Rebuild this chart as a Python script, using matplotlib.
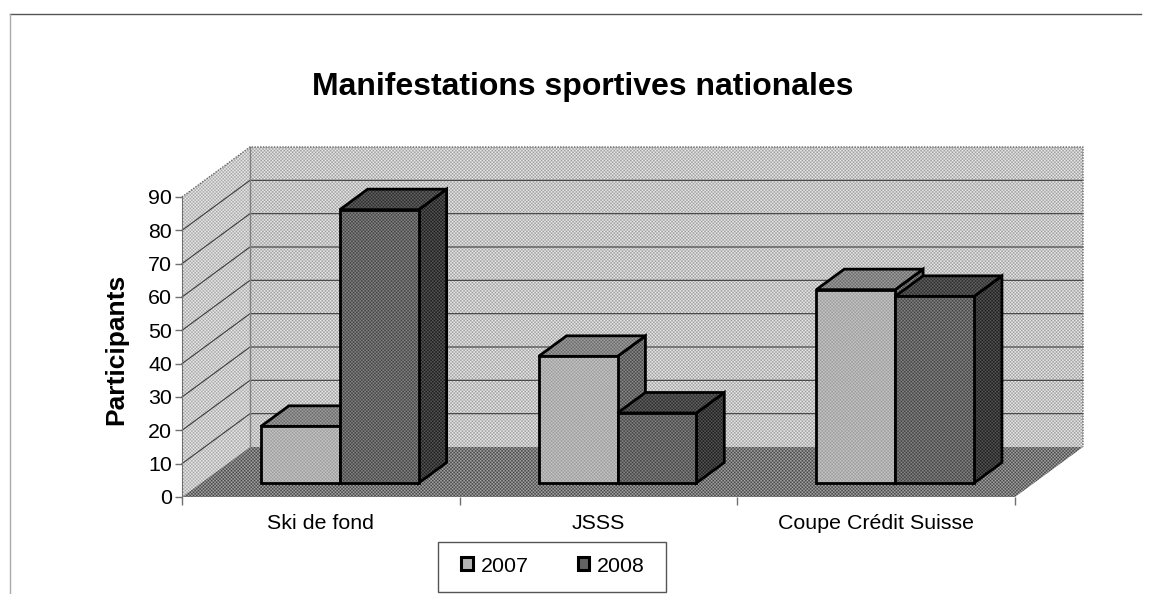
import numpy as np
import matplotlib
matplotlib.use('Agg')
import matplotlib.pyplot as plt
from matplotlib.patches import Polygon, Patch, Rectangle
from matplotlib.lines import Line2D

plt.rcParams['font.family'] = ['Liberation Sans', 'DejaVu Sans']

title = 'Manifestations sportives nationales'
ylabel = 'Participants'
categories = ['Ski de fond', 'JSSS', 'Coupe Crédit Suisse']
series_names = ['2007', '2008']
values_2007 = [17, 38, 58]
values_2008 = [82, 21, 56]
y_ticks = [0, 10, 20, 30, 40, 50, 60, 70, 80, 90]

W, H = 1151, 594
# 3d look: how far the back wall sits from the front plane, in data units
DEPTH_X = 68 / 277.67
DEPTH_Y = 15.0
BAR_OFFSET = 0.28
BAR_DEPTH = 0.41
GAP = 0.216
BAR_W = 0.284

# grey levels (mean, amplitude) of the dither
WALL = (196, 42)
SIDE_WALL = (200, 38)
FLOOR = (118, 55)
FRONT_2007 = (176, 24)
TOP_2007 = (132, 32)
SIDE_2007 = (105, 40)
FRONT_2008 = (100, 38)
TOP_2008 = (72, 32)
SIDE_2008 = (58, 34)

fig = plt.figure(figsize=(W / 100, H / 100), dpi=100)
ax = fig.add_axes([182 / W, 1 - 497 / H, 833 / W, 300 / H])
ax.patch.set_visible(False)

yy, xx = np.mgrid[0:H, 0:W]
dots = np.cos(2 * np.pi * xx / 3.3) * np.cos(2 * np.pi * yy / 3.3)


def textured(verts, shade, z, edge='none', lw=0):
    # dithered fill: a full figure image clipped to the polygon
    arr = shade[0] + shade[1] * dots
    im = ax.imshow(arr, extent=(0, 1, 0, 1), transform=fig.transFigure, aspect='auto',
                   cmap='gray', vmin=0, vmax=255, interpolation='nearest', zorder=z)
    clip = Polygon(verts, closed=True, facecolor='none', edgecolor=edge, linewidth=lw,
                   joinstyle='miter', clip_on=False, zorder=z + 0.001)
    ax.add_patch(clip)
    im.set_clip_path(clip)
    im.set_clip_box(fig.bbox)
    return im


def draw_bar(x, value, shades, z):
    x0 = x + BAR_OFFSET * DEPTH_X
    x1 = x0 + BAR_W
    y0 = BAR_OFFSET * DEPTH_Y
    y1 = y0 + value
    ddx = BAR_DEPTH * DEPTH_X
    ddy = BAR_DEPTH * DEPTH_Y
    textured([(x1, y0), (x1 + ddx, y0 + ddy), (x1 + ddx, y1 + ddy), (x1, y1)], shades[2], z,
             edge='black', lw=2)
    textured([(x0, y1), (x0 + ddx, y1 + ddy), (x1 + ddx, y1 + ddy), (x1, y1)], shades[1], z + 0.01,
             edge='black', lw=2)
    textured([(x0, y0), (x1, y0), (x1, y1), (x0, y1)], shades[0], z + 0.02, edge='black', lw=2)


n = len(categories)
top = y_ticks[-1]

# walls and floor
textured([(DEPTH_X, DEPTH_Y), (n + DEPTH_X, DEPTH_Y), (n + DEPTH_X, top + DEPTH_Y), (DEPTH_X, top + DEPTH_Y)],
         WALL, 1)
textured([(0, 0), (DEPTH_X, DEPTH_Y), (DEPTH_X, top + DEPTH_Y), (0, top)], SIDE_WALL, 1.1)
textured([(0, 0), (n, 0), (n + DEPTH_X, DEPTH_Y), (DEPTH_X, DEPTH_Y)], FLOOR, 1.2)

# grid
for t in y_ticks[1:-1]:
    ax.plot([0, DEPTH_X, n + DEPTH_X], [t, t + DEPTH_Y, t + DEPTH_Y], color='#3c3c3c', lw=0.8,
            clip_on=False, zorder=2)
ax.plot([DEPTH_X, DEPTH_X], [DEPTH_Y, top + DEPTH_Y], color='#808080', lw=1, clip_on=False, zorder=2)
# dotted outer edge of the walls
ax.plot([0, DEPTH_X, n + DEPTH_X, n + DEPTH_X], [top, top + DEPTH_Y, top + DEPTH_Y, DEPTH_Y], color='#666666',
        lw=1, ls=(0, (1, 1)), clip_on=False, zorder=2)

# bars
for i in range(n):
    draw_bar(i + GAP, values_2007[i], (FRONT_2007, TOP_2007, SIDE_2007), 3 + i)
    draw_bar(i + GAP + BAR_W, values_2008[i], (FRONT_2008, TOP_2008, SIDE_2008), 3.5 + i)

ax.set_xlim(0, n)
ax.set_ylim(0, top)
ax.set_xticks(np.arange(n) + 0.5)
ax.set_xticklabels(categories)
ax.set_xticks(np.arange(n + 1), minor=True)
ax.set_yticks(y_ticks)
ax.tick_params(axis='x', which='major', length=0, labelsize=15.4, pad=12.5)
ax.tick_params(axis='x', which='minor', length=6, width=1, color='#707070')
ax.tick_params(axis='y', length=5, width=1, color='#707070', labelsize=15.4, pad=2)
for s in ['top', 'right', 'bottom']:
    ax.spines[s].set_visible(False)
ax.spines['left'].set_color('#707070')
ax.spines['left'].set_zorder(2.5)

fig.text(583 / W, 1 - 87 / H, title, fontsize=23, fontweight='bold', ha='center', va='center')
fig.text(116 / W, 1 - 349 / H, ylabel, fontsize=19, fontweight='bold', rotation=90, ha='center', va='center')

# legend, the box is drawn on its own since it is wider than the padding allows
handles = [Patch(facecolor='#b4b4b4', edgecolor='black', linewidth=2.2),
           Patch(facecolor='#646464', edgecolor='black', linewidth=2.2)]
leg = ax.legend(handles, series_names, loc='center', bbox_to_anchor=(553 / W, 1 - 566 / H),
                bbox_transform=fig.transFigure, ncol=2, fontsize=15.4, frameon=False, borderpad=0,
                handlelength=0.55, handleheight=0.55, handletextpad=0.35, columnspacing=2.3)
leg.set_zorder(10)
fig.add_artist(Rectangle((437.5 / W, 1 - 591.5 / H), 228 / W, 50 / H, facecolor='white', edgecolor='#555555',
                         linewidth=1, transform=fig.transFigure, zorder=-1))

# page frame
fig.add_artist(Line2D([10 / W, 1141 / W], [1 - 14 / H, 1 - 14 / H], color='#555555', lw=1))
fig.add_artist(Line2D([10 / W, 10 / W], [1 - 14 / H, 0], color='#aaaaaa', lw=1))

fig.savefig('out.png', dpi=100)
